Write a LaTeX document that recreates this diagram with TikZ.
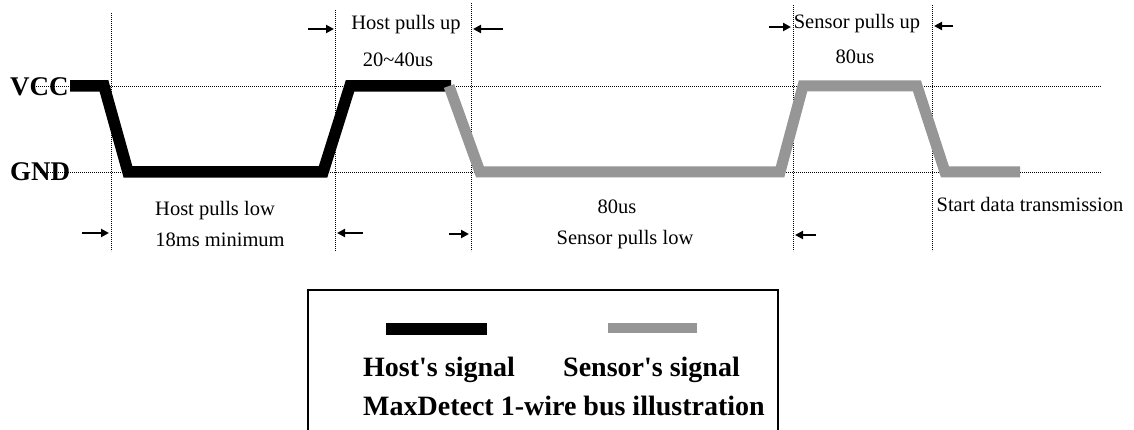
\documentclass[tikz,border=0pt]{standalone}
\usepackage{fontspec}
\setmainfont{Liberation Serif}
\usetikzlibrary{arrows.meta}
\definecolor{sensorgray}{RGB}{150,150,150}
\begin{document}
\begin{tikzpicture}[x=1pt,y=-1pt,
  guide/.style={line width=0.9pt, dash pattern=on 0.9pt off 1.1pt},
  hostsig/.style={line width=11.5pt, black, line join=miter},
  sensig/.style={line width=11pt, sensorgray, line join=miter},
  lbl/.style={font=\fontsize{20.5}{24}\selectfont, inner sep=0pt, anchor=base},
  lvl/.style={font=\fontsize{27}{30}\selectfont\bfseries, inner sep=0pt, anchor=west},
  marker/.style={line width=2pt, -{Triangle[length=8pt,width=8pt]}},
  legtxt/.style={font=\fontsize{28}{32}\selectfont\bfseries, inner sep=0pt, anchor=base west},
  legbar/.style={line width=12pt}
]
\useasboundingbox[fill=white] (0,0) rectangle (1134,430);

% level labels and horizontal guides
\node[lvl] (vcc) at (10,87) {VCC};
\node[lvl] (gnd) at (10,172) {GND};
\coordinate (vccStart) at (32,86);
\coordinate (gndStart) at (40,172);
\coordinate (vccEnd) at (1101,86);
\coordinate (gndEnd) at (1101,172);
\draw[guide] (vccStart) -- (vccEnd);
\draw[guide] (gndStart) -- (gndEnd);

% vertical guides
\foreach \n/\x/\t in {ga/111/13, gb/335/10, gc/471/3, gd/793/5, ge/932/5} {
  \coordinate (\n top) at (\x,\t);
  \coordinate (\n bot) at (\x,251);
  \draw[guide] (\n top) -- (\n bot);
}

% host signal
\coordinate (h0) at (70,86);
\coordinate (h1) at (104,86);
\coordinate (h2) at (128,172);
\coordinate (h3) at (323,172);
\coordinate (h4) at (350,86);
\coordinate (h5) at (451,86);
\draw[hostsig] (h0) -- (h1) -- (h2) -- (h3) -- (h4) -- (h5);

% sensor signal
\coordinate (s0) at (449,86);
\coordinate (s1) at (480,172);
\coordinate (s2) at (780,172);
\coordinate (s3) at (803,86);
\coordinate (s4) at (917,86);
\coordinate (s5) at (945,172);
\coordinate (s6) at (1020,172);
\draw[sensig] (s0) -- (s1) -- (s2) -- (s3) -- (s4) -- (s5) -- (s6);

% labels
\node[lbl] (hpu) at (406,30) {Host pulls up};
\node[lbl] (hput) at (398,67) {20\textasciitilde40us};
\node[lbl] (spu) at (857,29) {Sensor pulls up};
\node[lbl] (sput) at (855,64) {80us};
\node[lbl] (hpl) at (215,216) {Host pulls low};
\node[lbl] (hplt) at (220,247) {18ms minimum};
\node[lbl] (splt) at (617,214) {80us};
\node[lbl] (spl) at (625,244) {Sensor pulls low};
\node[lbl] (sdt) at (1030,212) {Start data transmission};

% interval markers
\coordinate (t1a) at (308,29); \coordinate (t1b) at (334,29);
\coordinate (t2a) at (503,29); \coordinate (t2b) at (473,29);
\coordinate (t3a) at (769,27); \coordinate (t3b) at (791,27);
\coordinate (t4a) at (953,26); \coordinate (t4b) at (934,26);
\coordinate (b1a) at (82,233);  \coordinate (b1b) at (109,233);
\coordinate (b2a) at (363,233); \coordinate (b2b) at (337,233);
\coordinate (b3a) at (449,234); \coordinate (b3b) at (469,234);
\coordinate (b4a) at (816,235); \coordinate (b4b) at (795,235);
\foreach \m in {t1,t2,t3,t4,b1,b2,b3,b4} {
  \draw[marker] (\m a) -- (\m b);
}

% legend
\coordinate (lbl1) at (308,432);
\coordinate (ltl) at (308,290);
\coordinate (ltr) at (778,290);
\coordinate (lbr) at (778,432);
\draw[line width=1.3pt] (lbl1) -- (ltl) -- (ltr) -- (lbr);
\coordinate (hb0) at (386,329); \coordinate (hb1) at (487,329);
\coordinate (sb0) at (608,328); \coordinate (sb1) at (697,328);
\draw[legbar, black] (hb0) -- (hb1);
\draw[legbar, sensorgray, line width=10pt] (sb0) -- (sb1);
\node[legtxt] (hs) at (363,376) {Host\textquotesingle s signal};
\node[legtxt] (ss) at (563,376) {Sensor\textquotesingle s signal};
\node[legtxt] (cap) at (363,415) {MaxDetect 1-wire bus illustration};
\end{tikzpicture}
\end{document}
